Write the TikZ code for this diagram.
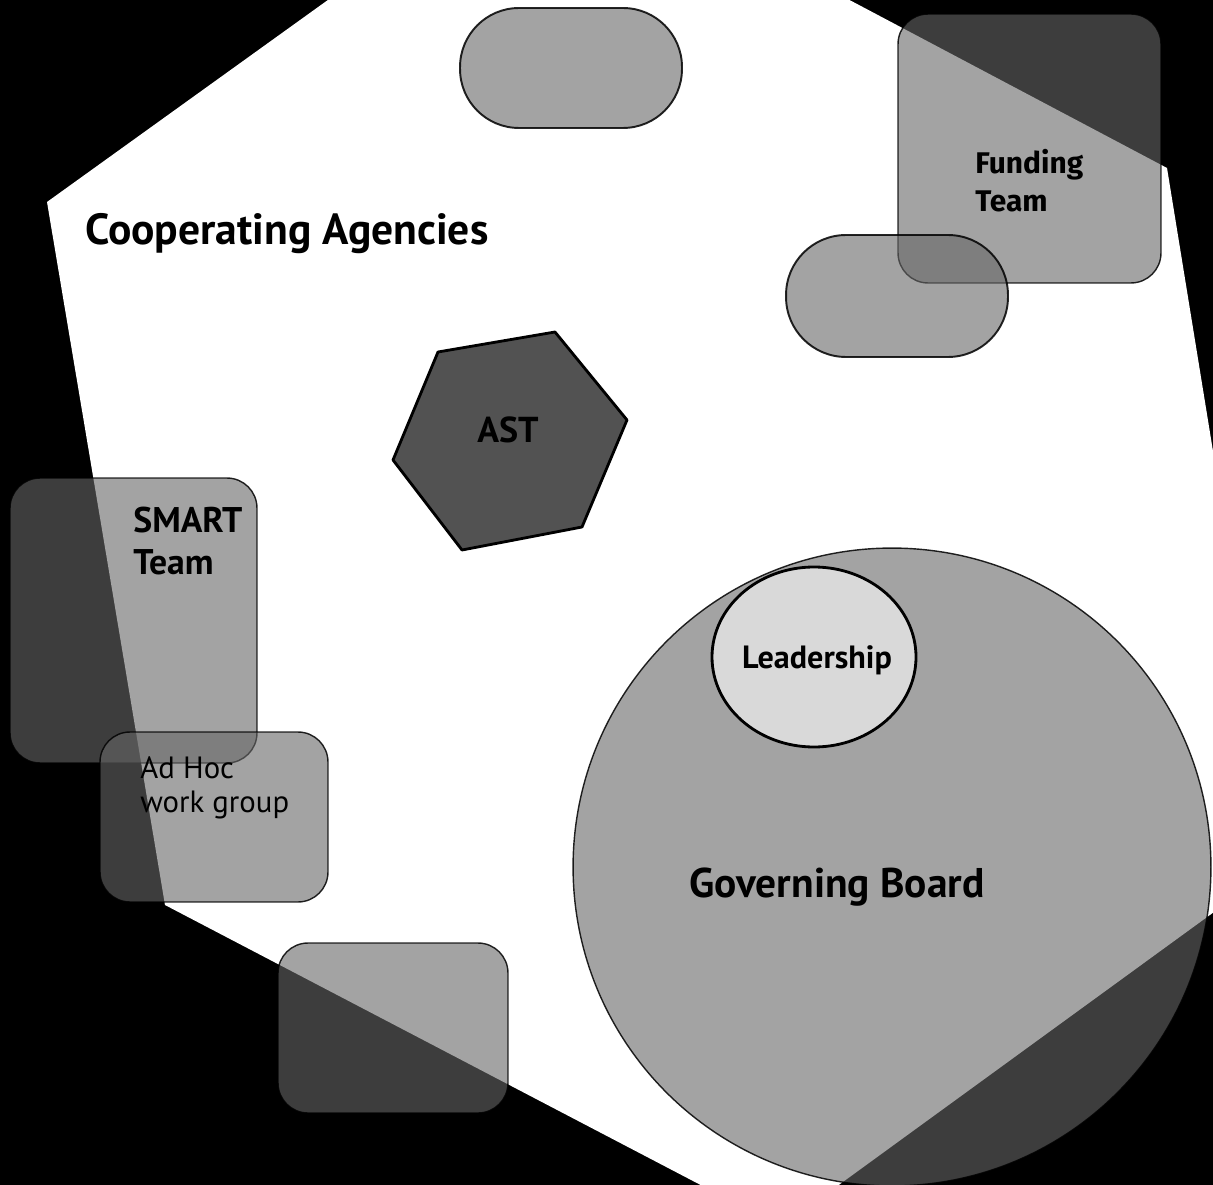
\documentclass[tikz,border=0pt]{standalone}
\usepackage{fontspec}
\setmainfont{PT Sans}
\newfontfamily\fundfont{Fira Sans}
\definecolor{boxgray}{gray}{0.40}
\definecolor{astgray}{gray}{0.32}
\definecolor{leadgray}{gray}{0.85}
\begin{document}
\begin{tikzpicture}[x=0.02cm,y=-0.02cm,
  shadebox/.style={draw=black, draw opacity=0.85, fill=boxgray, fill opacity=0.6, line width=0.8pt, inner sep=0pt, outer sep=0pt},
  lbl/.style={text=black, inner sep=0pt, text opacity=1, fill opacity=1}]
\useasboundingbox (0,0) rectangle (1213,1185);
\begin{scope}
\clip (0,0) rectangle (1213,1185);
\fill[black] (0,0) rectangle (1213,1185);
\fill[white] (549,-159) -- (1167,168) -- (1280,864) -- (781,1227) -- (165,905) -- (47,202) -- cycle;

% ovals and boxes
\node[shadebox, line width=1.1pt, rounded corners=1.18cm, minimum width=4.44cm, minimum height=2.4cm] (ovaltop) at (571,68) {};
\node[shadebox, rounded corners=0.6cm, minimum width=5.26cm, minimum height=5.38cm] (fundbox) at (1029.5,148.5) {};
\node[shadebox, line width=1.1pt, rounded corners=1.2cm, minimum width=4.44cm, minimum height=2.44cm] (ovalmid) at (897,296) {};
\node[shadebox, rounded corners=0.6cm, minimum width=4.94cm, minimum height=5.7cm] (smartbox) at (133.5,620.5) {};
\node[shadebox, rounded corners=0.6cm, minimum width=4.56cm, minimum height=3.4cm] (adhocbox) at (214,817) {};
\node[shadebox, rounded corners=0.6cm, minimum width=4.6cm, minimum height=3.4cm] (bottombox) at (393,1028) {};

% governing board
\node[shadebox, circle, minimum size=12.76cm] (board) at (892,867) {};
\draw[line width=1.6pt, fill=leadgray] (814,657) ellipse [x radius=102, y radius=90];

% AST hexagon
\draw[line width=1.6pt, fill=astgray, line join=round] (438,352) -- (555,332) -- (627,420) -- (582,527) -- (462,550) -- (393,460) -- cycle;
\end{scope}

% labels
\node[lbl, anchor=base west, font=\fontsize{24.8}{28}\selectfont\bfseries] (coop) at (85,245) {Cooperating Agencies};
\node[lbl, anchor=north west, align=left, font=\fontsize{17}{21.5}\selectfont\fundfont\bfseries] (fund) at (975,149) {Funding\\Team};
\node[lbl, anchor=north west, align=left, font=\fontsize{20.3}{23.8}\selectfont\bfseries] (smart) at (133,507) {SMART\\Team};
\node[lbl, anchor=north west, align=left, font=\fontsize{17.5}{19.5}\selectfont] (adhoc) at (140,756) {Ad Hoc\\work group};
\node[lbl, font=\fontsize{23.6}{27}\selectfont\bfseries] (gov) at (837,887) {Governing Board};
\node[lbl, font=\fontsize{18.3}{21}\selectfont\bfseries] (lead) at (817,660) {Leadership};
\node[lbl, font=\fontsize{20.5}{24}\selectfont\bfseries] (ast) at (508,430) {AST};
\end{tikzpicture}
\end{document}
